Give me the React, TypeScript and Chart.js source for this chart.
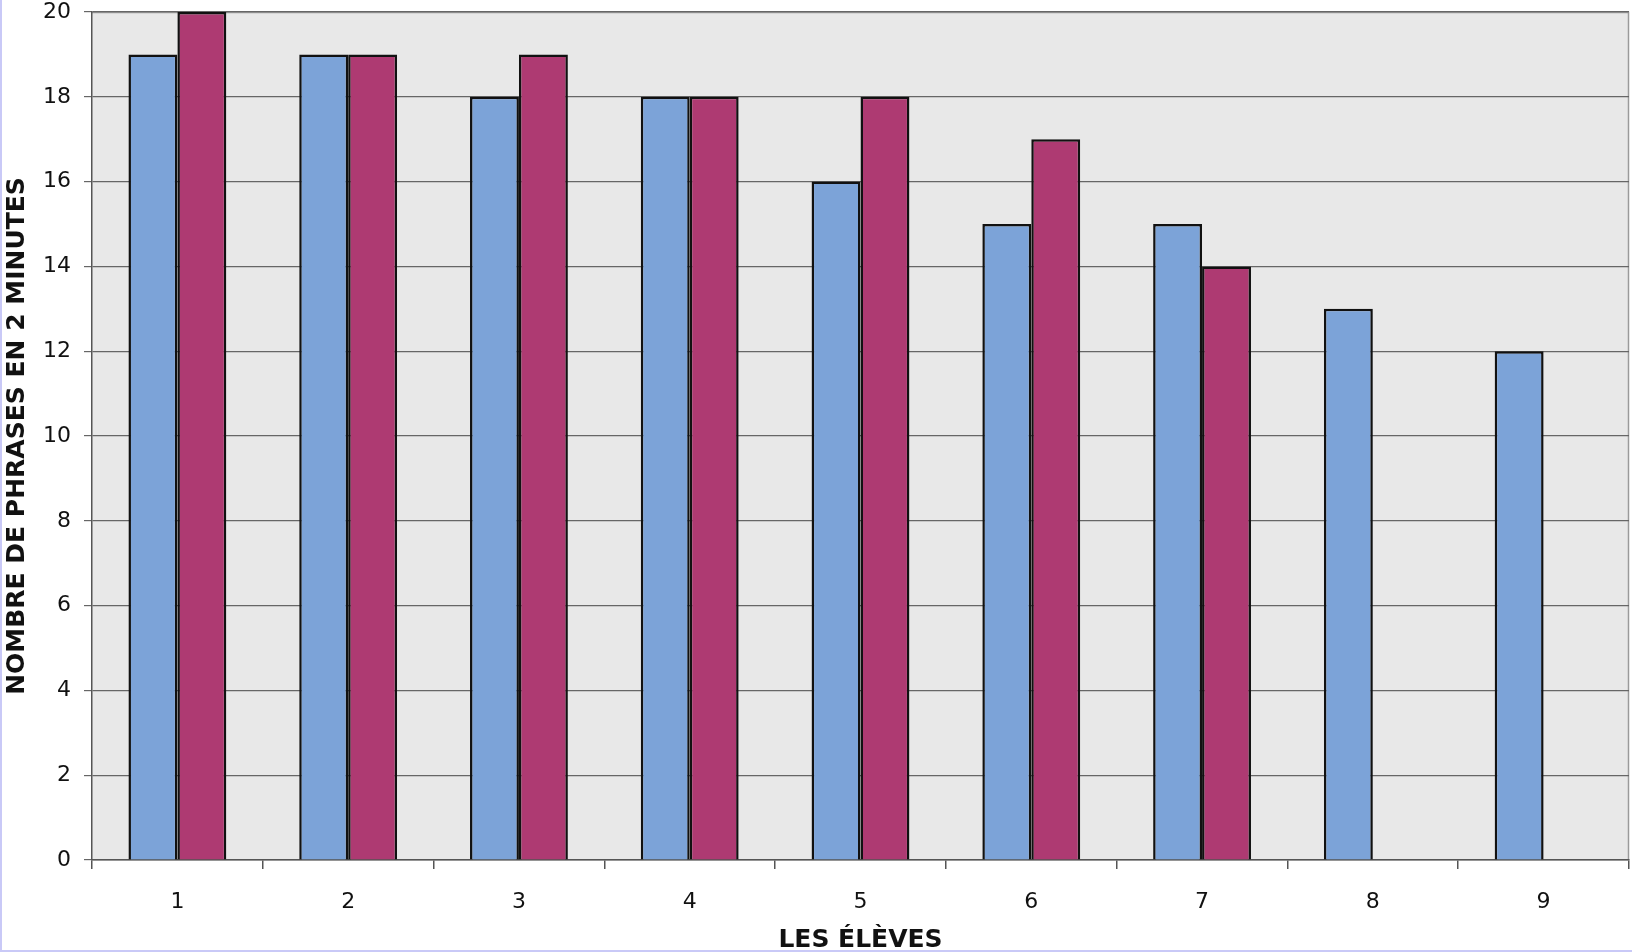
import React, { useEffect, useRef } from "react";
import { Chart, registerables } from "chart.js";

Chart.register(...registerables);

const categories = ["1", "2", "3", "4", "5", "6", "7", "8", "9"];
const seriesBlue = [19, 19, 18, 18, 16, 15, 15, 13, 12];
const seriesMagenta: (number | null)[] = [20, 19, 19, 18, 18, 17, 14, null, null];
const yTitle = "NOMBRE DE PHRASES EN 2 MINUTES";
const xTitle = "LES ÉLÈVES";

const plotBg = {
  id: "plotBg",
  beforeDraw(chart: any) {
    const { ctx, chartArea } = chart;
    if (!chartArea) return;
    ctx.save();
    ctx.fillStyle = "#e8e8e8";
    ctx.fillRect(chartArea.left, chartArea.top, chartArea.right - chartArea.left, chartArea.bottom - chartArea.top);
    ctx.strokeStyle = "#9a9a9a";
    ctx.lineWidth = 1.5;
    ctx.beginPath();
    ctx.moveTo(chartArea.left, chartArea.top + 0.5);
    ctx.lineTo(chartArea.right - 0.5, chartArea.top + 0.5);
    ctx.lineTo(chartArea.right - 0.5, chartArea.bottom);
    ctx.stroke();
    ctx.restore();
  },
};

export default function App() {
  const ref = useRef<HTMLCanvasElement>(null);
  useEffect(() => {
    document.body.style.margin = "0";
    const chart = new Chart(ref.current!, {
      type: "bar",
      data: {
        labels: categories,
        datasets: [
          {
            data: seriesBlue,
            backgroundColor: "#7ca3d8",
            borderColor: "#111",
            borderWidth: 2.5,
            borderSkipped: "bottom",
          },
          {
            data: seriesMagenta,
            backgroundColor: "#ae3a72",
            borderColor: "#111",
            borderWidth: 2.5,
            borderSkipped: "bottom",
          },
        ],
      },
      options: {
        animation: false,
        responsive: false,
        maintainAspectRatio: false,
        layout: { padding: { top: 0, right: 3, left: 0, bottom: 0 } },
        plugins: { legend: { display: false }, tooltip: { enabled: false } },
        datasets: { bar: { categoryPercentage: 0.573, barPercentage: 1 } },
        scales: {
          x: {
            afterFit(scale: any) {
              scale.height = 92;
              scale.paddingLeft = 0;
              scale.paddingRight = 0;
            },
            grid: {
              display: true,
              offset: true,
              drawOnChartArea: false,
              drawTicks: true,
              tickLength: 9,
              color: "#555",
              lineWidth: 1.5,
            },
            border: { display: true, color: "#555", width: 1.5 },
            ticks: {
              color: "#111",
              font: { family: "DejaVu Sans", size: 22 },
              padding: 20,
            },
            title: {
              display: true,
              text: xTitle,
              color: "#111",
              font: { family: "DejaVu Sans", size: 25, weight: "bold" },
              padding: { top: 0, bottom: -3 },
            },
          },
          y: {
            min: 0,
            max: 20,
            afterFit(scale: any) {
              scale.width = 92;
              scale.paddingTop = 12;
              scale.paddingBottom = 0;
            },
            grid: {
              color: "#666",
              lineWidth: 1.2,
              tickLength: 8,
            },
            border: { display: true, color: "#555", width: 1.5 },
            ticks: {
              stepSize: 2,
              color: "#111",
              font: { family: "DejaVu Sans", size: 22 },
              padding: 13,
            },
            title: {
              display: true,
              text: yTitle,
              color: "#111",
              font: { family: "DejaVu Sans", size: 25, weight: "bold" },
              padding: { top: 2, bottom: 4 },
            },
          },
        },
      },
      plugins: [plotBg],
    });
    return () => chart.destroy();
  }, []);
  return (
    <div style={{ position: "absolute", left: 0, top: 0, width: 1632, height: 952, background: "#fff" }}>
      <canvas ref={ref} width={1632} height={952} style={{ display: "block", width: 1632, height: 952 }} />
      <div style={{ position: "absolute", left: 0, top: 0, width: 2, height: 952, background: "#c9c9f7" }} />
      <div style={{ position: "absolute", left: 0, bottom: 0, width: 1632, height: 2, background: "#c9c9f7" }} />
    </div>
  );
}
